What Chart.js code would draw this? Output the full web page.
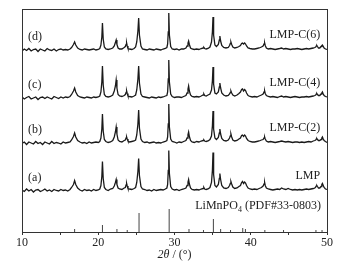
<!DOCTYPE html>
<html>
<head>
<meta charset="utf-8">
<script src="https://cdn.jsdelivr.net/npm/chart.js@4/dist/chart.umd.min.js"></script>
<style>
  html, body { margin: 0; padding: 0; background: #fff; }
  canvas { display: block; }
</style>
</head>
<body>
<canvas id="xrdChart" width="349" height="267"></canvas>
<script>
// 2theta positions (deg) shared by all four patterns
const angles = [
  10.0, 10.3, 10.6, 10.9, 11.2, 11.5, 11.8, 12.1, 12.4, 12.7, 13.0, 13.3, 13.6, 13.9, 14.2, 14.5, 14.8, 15.1, 15.4, 15.7, 16.0, 16.3,
  16.5, 16.75, 16.9, 17.05, 17.3,
  17.6, 17.9, 18.2, 18.5, 18.8, 19.1, 19.4, 19.7, 20.0, 20.2,
  20.35, 20.47, 20.55, 20.65, 20.8,
  21.0, 21.3, 21.6, 21.9,
  22.1, 22.25, 22.35, 22.45, 22.6,
  22.8, 23.1, 23.4,
  23.55, 23.65, 23.72, 23.8, 23.9,
  24.1, 24.4, 24.7, 24.9,
  25.05, 25.2, 25.3, 25.4, 25.6,
  25.8, 26.1, 26.4, 26.7, 27.0, 27.3, 27.6, 27.9, 28.2, 28.5, 28.8, 29.0,
  29.1, 29.18, 29.25, 29.33, 29.5,
  29.7, 30.0, 30.3, 30.6, 30.9, 31.2, 31.5,
  31.65, 31.77, 31.85, 31.95, 32.1,
  32.3, 32.6, 32.9, 33.2, 33.5,
  33.75, 33.85, 33.95,
  34.15, 34.4, 34.65,
  34.85, 34.97, 35.05, 35.13, 35.3,
  35.5, 35.75, 35.88, 35.95, 36.05, 36.2, 36.45,
  36.75, 37.05,
  37.22, 37.32, 37.4, 37.5, 37.65,
  37.9, 38.2, 38.45,
  38.65, 38.8, 38.92, 39.05, 39.2, 39.32, 39.45, 39.65,
  39.9, 40.2, 40.5, 40.8, 41.1, 41.4,
  41.62, 41.74, 41.82, 41.9, 42.05,
  42.3, 42.6, 42.9, 43.2, 43.5, 43.8, 44.05, 44.3, 44.6, 44.9, 45.2, 45.5, 45.8, 46.1, 46.4, 46.7, 47.0, 47.3, 47.6, 47.9, 48.2, 48.4,
  48.52, 48.6, 48.67, 48.75, 48.88,
  49.05,
  49.22, 49.32, 49.4, 49.48, 49.62,
  49.8, 50.0
];

// intensities above each pattern's own baseline (a.u.)
const lmp = [
  0.5, -1, 1.5, -0.5, 1, -1.5, 0.5, 1, -1, 0, 1.5, -0.5, 0.5, -1, 1, 0, -0.5, 1, 0, 0.5, -0.5, 1,
  3, 6, 10, 6, 2.5,
  0.5, -0.5, 1, 0, 0.5, -0.5, 1, 0, 0.5, 1.5,
  5, 14, 29, 12, 3,
  1, 0, 1.5, 2,
  4.5, 8, 11, 6, 2.5,
  1.5, 1, 2.5,
  3, 5.5, 7, 4.5, 2,
  1.5, 1, 2, 3,
  8, 19, 32, 15, 4,
  1.5, 1, 0, 0.5, -0.5, 1, 0, 0.5, 1, 0.5, 1.5, 2.5,
  6, 20, 40, 17, 4,
  1.5, 0.5, 1, 0, 1, 1.5, 2.5,
  5, 8.5, 11, 6.5, 2.5,
  1, 0.5, 1, 0.5, 1.5,
  2, 3, 1.5,
  1, 1.5, 3,
  8, 20, 38, 16, 5,
  3.5, 6, 12, 17, 11, 5, 2.5,
  2, 3,
  5, 7, 9, 6.5, 3.5,
  2, 2.5, 4,
  5, 8, 9, 7, 8.5, 7.5, 5, 2.5,
  1.5, 1, 1.5, 1, 2, 3,
  4.5, 6.5, 8, 5, 2.5,
  1.5, 1, 0.5, 1, 1.5, 1, 2.5, 1.5, 1, 2, 1, 0.5, 1, 0.5, 1, 0.5, 1, 1.5, 1, 1.5, 2, 2.5,
  3.5, 4.5, 5, 4, 2.5,
  2.5,
  4, 6, 7, 5.5, 3,
  1.5, 1
];
const lmpC2 = [
  -0.5, 1, -1.5, 1, 0, -1, 1.5, -0.5, 0.5, -1.5, 1, 0, -1, 1.5, -0.5, 0.5, 0, -1, 1, 0, 0.5, 1,
  3, 6.5, 10, 6, 2.5,
  1, 0, 0.5, -0.5, 1, 0, 0.5, 1, 0.5, 1.5,
  5, 14, 29, 12, 3.5,
  1.5, 0.5, 1, 2.5,
  6, 11, 16, 9, 3,
  1.5, 1, 2.5,
  3, 5, 6, 4, 2,
  1, 1.5, 2, 3,
  8, 19, 33, 15, 4,
  1.5, 0.5, 1, 0, 0.5, 1, 0, 0.5, 0, 1, 1.5, 2.5,
  6, 19, 39, 16, 4,
  1.5, 1, 0, 1, 0.5, 1.5, 2.5,
  5, 8.5, 11, 6.5, 2.5,
  1, 0.5, 1.5, 1, 2,
  2.5, 3, 2,
  1.5, 2, 3.5,
  7, 17, 32, 14, 5,
  3.5, 5.5, 10, 14, 9, 4.5, 2.5,
  2, 3,
  5, 7, 9, 6, 3,
  2, 2.5, 4,
  5, 7.5, 8, 6.5, 8, 7, 4.5, 2.5,
  1.5, 1, 1, 1.5, 2, 3,
  3.5, 5, 6, 4, 2,
  1, 1.5, 1, 0.5, 1, 1.5, 2, 1.5, 1, 1.5, 1, 0.5, 1, 1, 0.5, 1, 0.5, 1, 1.5, 1, 2, 2.5,
  3, 4, 4.5, 3.5, 2.5,
  2.5,
  3.5, 5, 6, 4.5, 2.5,
  1.5, 0.5
];
const lmpC4 = [
  1, -1, 0.5, 1.5, -1, 0, 1, -1.5, 0.5, 1, -0.5, 1, 0, -1, 1.5, 0.5, -0.5, 1, 0, 1, 0.5, 1.5,
  3.5, 7, 10, 6, 2.5,
  1, 0.5, 0, 1, 0.5, 0, 1, 0.5, 1, 2,
  6, 16, 32, 13, 3.5,
  1.5, 1, 1.5, 3,
  7, 12, 18, 10, 3.5,
  2, 1.5, 2.5,
  3.5, 5.5, 7, 4.5, 2,
  1.5, 1, 2, 3,
  8, 19, 32, 15, 4,
  1.5, 1, 0.5, 0, 1, 0.5, 0, 1, 0.5, 1, 2, 2.5,
  6, 19, 38, 16, 4,
  1.5, 0.5, 1, 1, 0.5, 1.5, 2.5,
  5, 9, 12, 7, 3,
  1.5, 1, 1.5, 1, 2,
  3, 4, 2.5,
  2, 3, 4,
  8, 17, 31, 14, 5,
  4, 6, 11, 15, 10, 5, 3,
  2, 2.5,
  4, 5.5, 7, 5, 3,
  2, 3, 4.5,
  6, 8.5, 9, 7, 8.5, 7.5, 5, 2.5,
  1.5, 1, 1.5, 1, 2, 3,
  4, 6, 7, 4.5, 2.5,
  1.5, 1, 1.5, 1, 0.5, 1.5, 2, 1, 1.5, 1, 0.5, 1, 1.5, 1, 0.5, 1, 1, 1.5, 1, 1.5, 2, 2.5,
  3, 4, 4.5, 3.5, 2.5,
  2.5,
  4, 5, 6, 4.5, 2.5,
  1.5, 1
];
const lmpC6 = [
  -1, 1, -0.5, 1.5, -1, 0.5, 1, -1.5, 1, 0, -1, 1.5, 0, -0.5, 1, -1, 0.5, 1, 0, 0.5, 0, 1,
  2.5, 5.5, 8, 5, 2,
  0.5, 0, 1, 0.5, 0, 0.5, 1, 0, 0.5, 1.5,
  5, 13, 27, 11, 3,
  1, 0.5, 1, 2,
  4, 7.5, 10, 5.5, 2,
  1, 1, 2.5,
  3.5, 5.5, 7, 4, 1.5,
  1, 0.5, 1.5, 3,
  8, 19, 32, 15, 4,
  1, 0.5, 0, 1, 0.5, 0, 1, 0.5, 0, 1, 1.5, 2.5,
  6, 18, 37, 15, 3.5,
  1, 0.5, 1, 0, 1, 1, 2,
  4, 7, 9, 5.5, 2,
  1, 0.5, 1, 0.5, 1.5,
  2, 2.5, 1.5,
  1, 1.5, 3,
  8, 18, 33, 15, 5,
  3.5, 5.5, 10, 14, 9, 4.5, 2.5,
  2, 2.5,
  4.5, 6.5, 8, 5.5, 3,
  2, 2.5, 3.5,
  4.5, 6.5, 7, 6, 7, 6, 4, 2,
  1.5, 1, 1, 1.5, 2, 3,
  4, 6, 7, 4.5, 2,
  1, 1.5, 1, 0.5, 1, 1.5, 2, 1, 1.5, 1, 0.5, 1, 1, 1.5, 1, 0.5, 1, 1.5, 1, 1.5, 2, 2.5,
  3, 4, 4.5, 3.5, 2,
  2,
  3.5, 4.5, 5, 4, 2,
  1, 0.5
];

const seriesValues = [lmp, lmpC2, lmpC4, lmpC6];
const seriesNames = ['LMP', 'LMP-C(2)', 'LMP-C(4)', 'LMP-C(6)'];
const seriesTags = ['(a)', '(b)', '(c)', '(d)'];
const seriesOffsets = [41.5, 89, 134, 182];

// LiMnPO4 reference card PDF#33-0803
const stickAngles = [16.9, 20.55, 22.45, 23.8, 25.35, 29.3, 31.9, 33.8, 35.1, 36.05, 37.35, 38.95, 39.3, 41.85, 44.3, 48.55, 49.35];
const stickHeights = [3, 7, 3, 2, 19, 23, 3, 2, 13, 3, 2, 4, 3, 2, 2, 2, 2];

const xMin = 10, xMax = 50, xStep = 5, xLabelStep = 10;
const yMax = 223;

const serif = "'Liberation Serif', 'Times New Roman', serif";
const ink = '#222';

const datasets = [];
datasets.push({
    label: 'PDF#33-0803',
    data: stickAngles.flatMap((a, i) => [{ x: a, y: 0 }, { x: a, y: stickHeights[i] }, { x: a, y: null }]),
    borderColor: '#444',
    borderWidth: 1,
    pointRadius: 0,
    spanGaps: false
});
seriesValues.forEach((vals, s) => {
    datasets.push({
        label: seriesNames[s],
        data: angles.map((a, i) => ({ x: a, y: vals[i] + seriesOffsets[s] })),
        borderColor: '#1a1a1a',
        borderWidth: 1.3,
        pointRadius: 0,
        tension: 0
    });
});

const decorations = {
    id: 'decorations',
    afterDraw(chart) {
        const { ctx, chartArea, scales } = chart;
        const xs = scales.x, ys = scales.y;
        ctx.save();
        // frame
        ctx.strokeStyle = '#333';
        ctx.lineWidth = 1;
        ctx.strokeRect(Math.round(chartArea.left) + 0.5, Math.round(chartArea.top) + 0.5,
            Math.round(chartArea.right - chartArea.left), Math.round(chartArea.bottom - chartArea.top));

        ctx.fillStyle = ink;
        ctx.font = '12px ' + serif;
        ctx.textBaseline = 'middle';
        seriesTags.forEach((tag, s) => {
            ctx.textAlign = 'left';
            ctx.fillText(tag, xs.getPixelForValue(10.8), ys.getPixelForValue(seriesOffsets[s] + 13));
            ctx.textAlign = 'right';
            ctx.fillText(seriesNames[s], xs.getPixelForValue(49.1), ys.getPixelForValue(seriesOffsets[s] + 15));
        });

        // LiMnPO4 (PDF#33-0803) with subscript
        const yRef = ys.getPixelForValue(26);
        const p1 = 'LiMnPO', p2 = '4', p3 = ' (PDF#33-0803)';
        ctx.textAlign = 'left';
        ctx.font = '12px ' + serif;
        const w1 = ctx.measureText(p1).width, w3 = ctx.measureText(p3).width;
        ctx.font = '8px ' + serif;
        const w2 = ctx.measureText(p2).width;
        let x0 = xs.getPixelForValue(49.2) - (w1 + w2 + w3);
        ctx.font = '12px ' + serif;
        ctx.fillText(p1, x0, yRef);
        ctx.font = '8px ' + serif;
        ctx.fillText(p2, x0 + w1, yRef + 4);
        ctx.font = '12px ' + serif;
        ctx.fillText(p3, x0 + w1 + w2, yRef);

        // axis title 2θ / (°)
        const t1 = '2\u03B8', t2 = ' / (\u00B0)';
        ctx.font = 'italic 12px ' + serif;
        const tw1 = ctx.measureText(t1).width;
        ctx.font = '12px ' + serif;
        const tw2 = ctx.measureText(t2).width;
        const cx = (chartArea.left + chartArea.right) / 2;
        const tx = cx - (tw1 + tw2) / 2;
        ctx.textBaseline = 'alphabetic';
        ctx.font = 'italic 12px ' + serif;
        ctx.fillText(t1, tx, 258);
        ctx.font = '12px ' + serif;
        ctx.fillText(t2, tx + tw1, 258);
        ctx.restore();
    }
};

new Chart(document.getElementById('xrdChart').getContext('2d'), {
    type: 'line',
    data: { datasets: datasets },
    options: {
        responsive: false,
        animation: false,
        devicePixelRatio: 1,
        layout: { padding: { left: 22, right: 22, top: 9, bottom: 0 } },
        plugins: { legend: { display: false }, tooltip: { enabled: false } },
        scales: {
            x: {
                type: 'linear',
                min: xMin,
                max: xMax,
                offset: false,
                border: { display: false },
                grid: { drawOnChartArea: false, drawTicks: true, tickLength: 3, color: '#333' },
                ticks: {
                    stepSize: xStep,
                    autoSkip: false,
                    maxRotation: 0,
                    padding: 1,
                    color: ink,
                    font: { family: serif, size: 12 },
                    callback: v => (v % xLabelStep === 0 ? v : '')
                },
                afterFit: scale => { scale.height = 35; }
            },
            y: { display: false, min: 0, max: yMax }
        }
    },
    plugins: [decorations]
});
</script>
</body>
</html>
